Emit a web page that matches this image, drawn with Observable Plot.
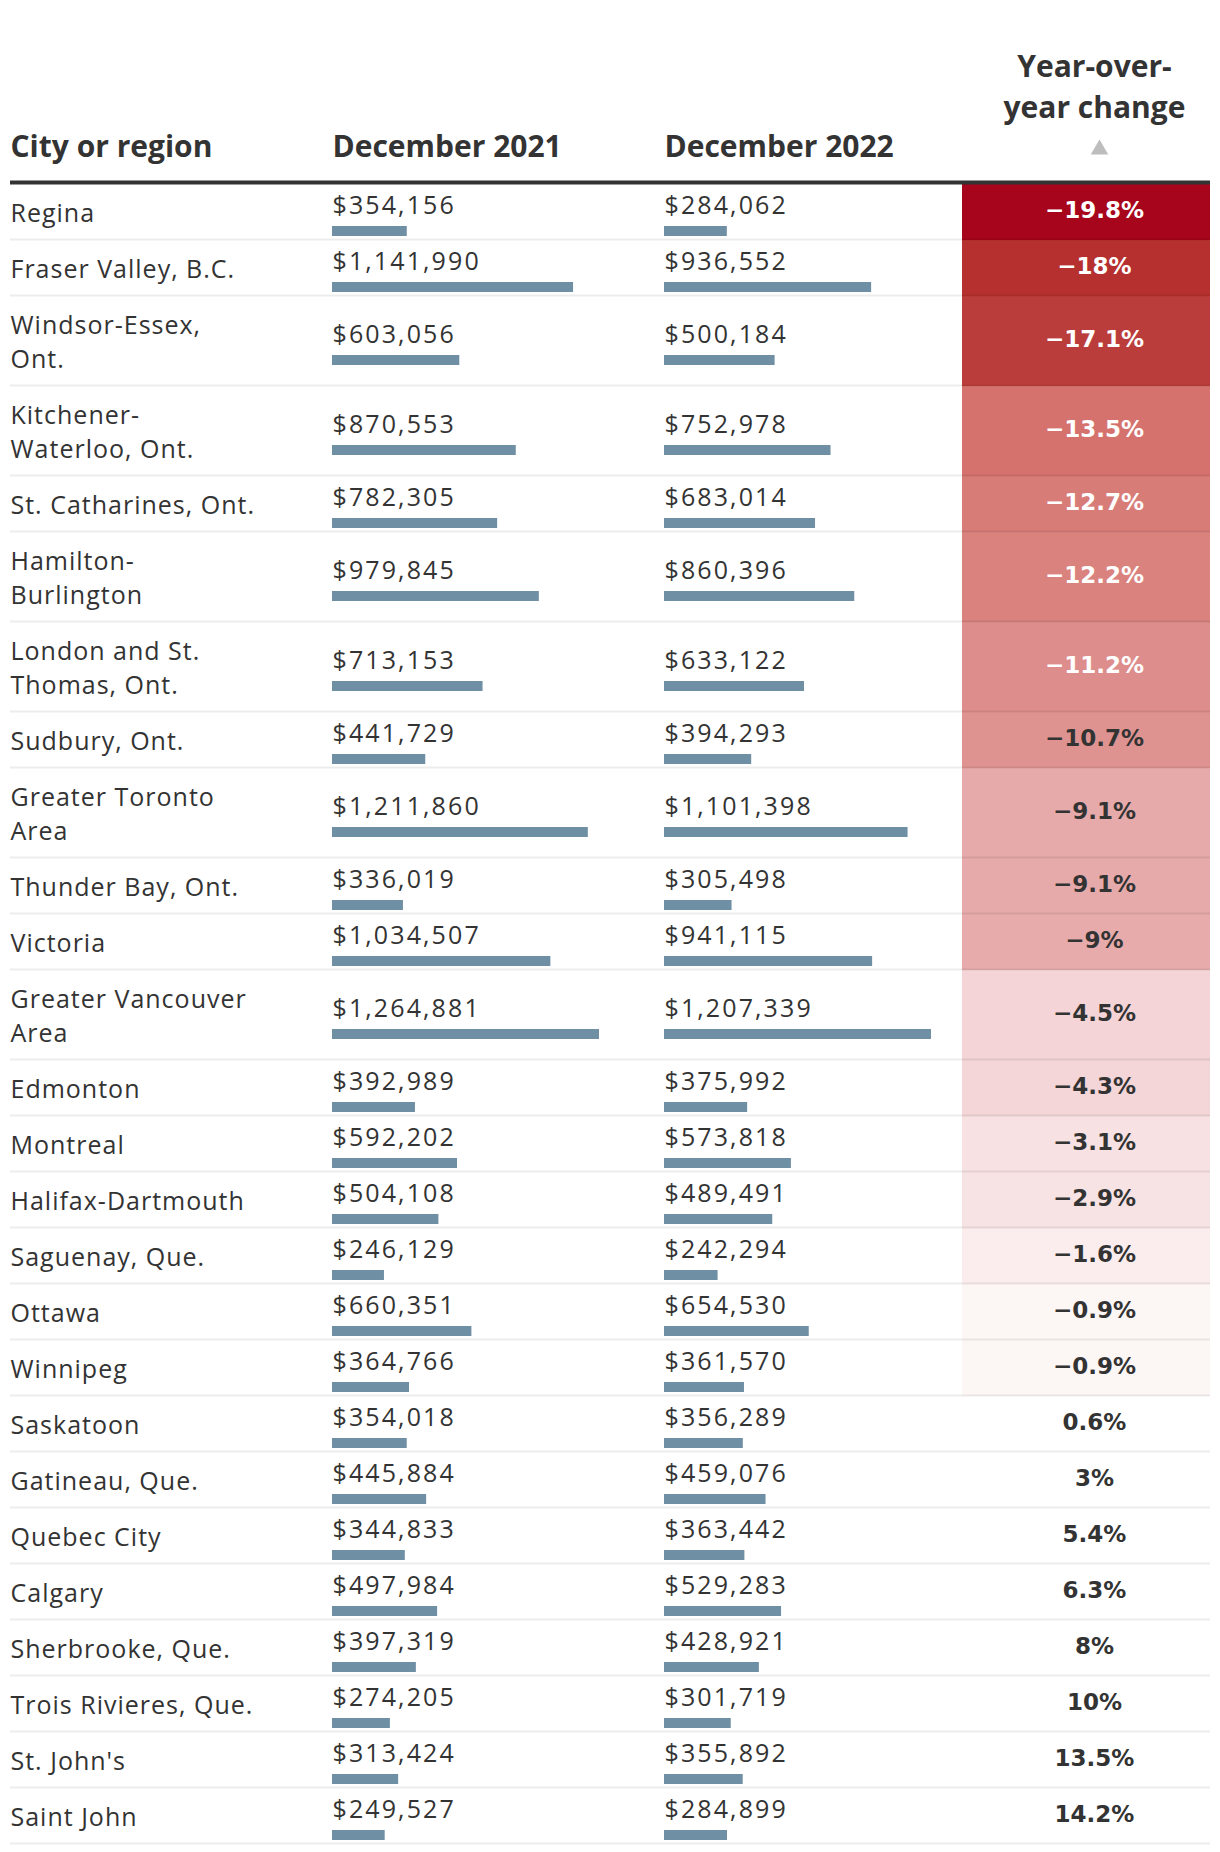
<!DOCTYPE html>
<html>
<head>
<meta charset="utf-8">
<script src="https://cdn.jsdelivr.net/npm/d3@7"></script>
<script src="https://cdn.jsdelivr.net/npm/@observablehq/plot@0.6"></script>
<style>
  html, body { margin: 0; padding: 0; background: #fff; }
  #chart svg { display: block; }
</style>
</head>
<body>
<div id="chart"></div>
<script>
// ---------- data ----------
const cities = ["Regina", "Fraser Valley, B.C.", "Windsor-Essex, Ont.", "Kitchener-Waterloo, Ont.", "St. Catharines, Ont.", "Hamilton-Burlington", "London and St. Thomas, Ont.", "Sudbury, Ont.", "Greater Toronto Area", "Thunder Bay, Ont.", "Victoria", "Greater Vancouver Area", "Edmonton", "Montreal", "Halifax-Dartmouth", "Saguenay, Que.", "Ottawa", "Winnipeg", "Saskatoon", "Gatineau, Que.", "Quebec City", "Calgary", "Sherbrooke, Que.", "Trois Rivieres, Que.", "St. John's", "Saint John"];
const dec2021 = [354156, 1141990, 603056, 870553, 782305, 979845, 713153, 441729, 1211860, 336019, 1034507, 1264881, 392989, 592202, 504108, 246129, 660351, 364766, 354018, 445884, 344833, 497984, 397319, 274205, 313424, 249527];
const dec2022 = [284062, 936552, 500184, 752978, 683014, 860396, 633122, 394293, 1101398, 305498, 941115, 1207339, 375992, 573818, 489491, 242294, 654530, 361570, 356289, 459076, 363442, 529283, 428921, 301719, 355892, 284899];
const change = [-19.8, -18, -17.1, -13.5, -12.7, -12.2, -11.2, -10.7, -9.1, -9.1, -9, -4.5, -4.3, -3.1, -2.9, -1.6, -0.9, -0.9, 0.6, 3, 5.4, 6.3, 8, 10, 13.5, 14.2];
const headers = ["City or region", "December 2021", "December 2022", "Year-over-year change"];

// ---------- styles / layout constants ----------
const W = 1220, H = 1852;
const TEXT = "#333333";
const BAR = "#6f8fa4";
const BODY_FONT = "Open Sans";
const NUM_FONT = "DejaVu Sans";
const NAME_SIZE = 25, NAME_LS = 1;
const VAL_SIZE = 25, VAL_LS = 2.1;
const HEAD_SIZE = 30;
const COL_NAME = 10, COL_21 = 332, COL_22 = 664, COL_CHG = 1094, CELL_LEFT = 962, RIGHT_INSET = 10;
const BAR_MAX = 267;
const TOP = 184, SINGLE = 56, LINE = 34;
const NAME_WRAP = 248, HEAD_WRAP = 200;
const colorStops = [-20, -18, -17, -13.5, -12, -10.5, -9, -4.5, -3, -1.5, -1];
const colorRamp = ["#a50019", "#b5302e", "#bc3f3c", "#d5726e", "#da8481", "#e09594", "#e8abac", "#f4d4d6", "#f7e2e3", "#fbeeee", "#fcf6f5"];

// ---------- text wrapping ----------
const ctx = document.createElement("canvas").getContext("2d");
function wrap(text, font, ls, maxW) {
  ctx.font = font;
  const w = s => ctx.measureText(s).width + s.length * ls;
  const lines = [];
  let line = "";
  for (const word of text.split(" ")) {
    const parts = word.split(/(?<=-)/);
    parts.forEach((p, pi) => {
      const joiner = (pi === 0 && line !== "") ? " " : "";
      const cand = line + joiner + p;
      if (line === "" || w(cand) <= maxW) line = cand;
      else { lines.push(line); line = p; }
    });
  }
  if (line) lines.push(line);
  return lines;
}

// ---------- rows ----------
const max21 = d3.max(dec2021), max22 = d3.max(dec2022);
let yCursor = TOP;
const rows = cities.map((city, i) => {
  const lines = wrap(city, `${NAME_SIZE}px "${BODY_FONT}"`, NAME_LS, NAME_WRAP);
  const h = SINGLE + (lines.length - 1) * LINE;
  const r = {
    city, label: lines.join("\n"),
    v21: dec2021[i], v22: dec2022[i], chg: change[i],
    top: yCursor, bottom: yCursor + h, mid: yCursor + (h - 2) / 2
  };
  yCursor += h;
  return r;
});

const money = d3.format(",");
const pct = v => (v < 0 ? "\u2212" : "") + Math.abs(v) + "%";
const yoyLabel = wrap(headers[3], `bold ${HEAD_SIZE}px "${BODY_FONT}"`, 0, HEAD_WRAP).join("\n");

const zero = () => 0;
const headCommon = {x: zero, y: () => 156, textAnchor: "start", lineAnchor: "bottom",
  fontFamily: BODY_FONT, fontWeight: "bold", fontSize: HEAD_SIZE, fill: TEXT};

const chart = Plot.plot({
  width: W, height: H,
  margin: 0,
  x: {domain: [0, 1], range: [0, BAR_MAX], axis: null},
  y: {type: "identity", axis: null},
  color: {type: "linear", domain: colorStops, range: colorRamp, clamp: true},
  marks: [
    // change cells
    Plot.rect(rows.filter(d => d.chg < 0), {
      y1: "top", y2: "bottom", fill: "chg",
      insetLeft: CELL_LEFT, insetRight: RIGHT_INSET
    }),
    // row separators
    Plot.ruleY(rows, {y: d => d.bottom - 1, stroke: "#000", strokeOpacity: 0.075, strokeWidth: 2,
      insetLeft: COL_NAME, insetRight: RIGHT_INSET}),
    // header rule
    Plot.ruleY([TOP - 2], {stroke: TEXT, strokeWidth: 4, insetLeft: COL_NAME, insetRight: RIGHT_INSET}),
    // headers
    Plot.text([headers[0]], {...headCommon, text: d => d, dx: COL_NAME}),
    Plot.text([headers[1]], {...headCommon, text: d => d, dx: COL_21}),
    Plot.text([headers[2]], {...headCommon, text: d => d, dx: COL_22}),
    Plot.text([yoyLabel], {...headCommon, y: () => 117.5, text: d => d, textAnchor: "middle", dx: COL_CHG, lineHeight: 41 / HEAD_SIZE}),
    Plot.dot([0], {x: zero, y: () => 149, dx: COL_CHG + 5, symbol: "triangle", r: 6.5, fill: "#bdbdbd"}),
    // city names
    Plot.text(rows, {x: zero, y: d => d.mid - 0.8, text: "label", dx: COL_NAME, textAnchor: "start",
      lineAnchor: "middle", lineHeight: LINE / NAME_SIZE, fontFamily: BODY_FONT, fontSize: NAME_SIZE,
      fontVariant: "normal", fill: TEXT}),
    // values
    Plot.text(rows, {x: zero, y: d => d.mid + 2, text: d => "$" + money(d.v21), dx: COL_21,
      textAnchor: "start", lineAnchor: "bottom", fontFamily: BODY_FONT, fontSize: VAL_SIZE,
      fontVariant: "tabular-nums", fill: TEXT}),
    Plot.text(rows, {x: zero, y: d => d.mid + 2, text: d => "$" + money(d.v22), dx: COL_22,
      textAnchor: "start", lineAnchor: "bottom", fontFamily: BODY_FONT, fontSize: VAL_SIZE,
      fontVariant: "tabular-nums", fill: TEXT}),
    // bars
    Plot.rect(rows, {x1: zero, x2: d => d.v21 / max21, y1: d => d.mid + 15, y2: d => d.mid + 25, fill: BAR, dx: COL_21}),
    Plot.rect(rows, {x1: zero, x2: d => d.v22 / max22, y1: d => d.mid + 15, y2: d => d.mid + 25, fill: BAR, dx: COL_22}),
    // change labels
    Plot.text(rows.filter(d => d.chg <= -11), {x: zero, y: d => d.mid - 0.5, text: d => pct(d.chg), dx: COL_CHG,
      textAnchor: "middle", lineAnchor: "middle", fontFamily: NUM_FONT, fontWeight: "bold", fontSize: 23, fill: "white"}),
    Plot.text(rows.filter(d => d.chg > -11), {x: zero, y: d => d.mid - 0.5, text: d => pct(d.chg), dx: COL_CHG,
      textAnchor: "middle", lineAnchor: "middle", fontFamily: NUM_FONT, fontWeight: "bold", fontSize: 23, fill: TEXT})
  ]
});

d3.select(chart).selectAll('g[font-variant="normal"]').style("letter-spacing", NAME_LS + "px");
d3.select(chart).selectAll('g[font-variant="tabular-nums"]').style("letter-spacing", VAL_LS + "px");
document.getElementById("chart").appendChild(chart);
</script>
</body>
</html>
